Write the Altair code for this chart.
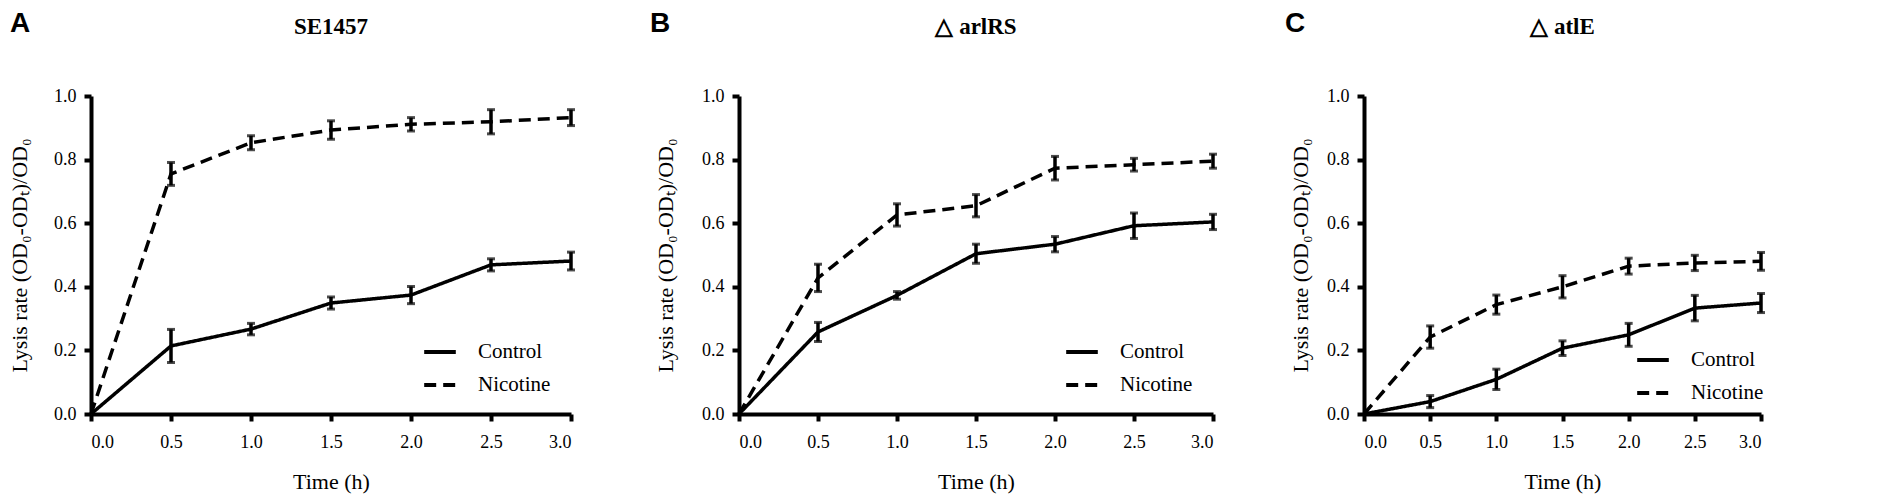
import altair as alt
import pandas as pd

times = [0.0, 0.5, 1.0, 1.5, 2.0, 2.5, 3.0]
groups = ["Control", "Nicotine"]
y_ticks = [0.0, 0.2, 0.4, 0.6, 0.8, 1.0]

a_control = [0.0, 0.214, 0.267, 0.349, 0.374, 0.469, 0.481]
a_control_err = [0.0, 0.052, 0.018, 0.019, 0.027, 0.019, 0.028]
a_nicotine = [0.0, 0.755, 0.853, 0.893, 0.911, 0.919, 0.932]
a_nicotine_err = [0.0, 0.036, 0.022, 0.029, 0.021, 0.038, 0.025]

b_control = [0.0, 0.258, 0.373, 0.504, 0.534, 0.592, 0.604]
b_control_err = [0.0, 0.03, 0.012, 0.03, 0.024, 0.04, 0.024]
b_nicotine = [0.0, 0.428, 0.626, 0.655, 0.773, 0.784, 0.795]
b_nicotine_err = [0.0, 0.043, 0.035, 0.035, 0.037, 0.02, 0.022]

c_control = [0.0, 0.039, 0.109, 0.207, 0.249, 0.333, 0.349]
c_control_err = [0.0, 0.019, 0.032, 0.023, 0.036, 0.04, 0.03]
c_nicotine = [0.0, 0.242, 0.344, 0.40, 0.465, 0.475, 0.48]
c_nicotine_err = [0.0, 0.035, 0.03, 0.035, 0.025, 0.024, 0.028]

Y_TITLE = "Lysis rate (OD\u2080-OD\u209c)/OD\u2080"


def panel(letter, title, ctrl, ctrl_err, nic, nic_err, width, lx, ly, ytpad, letter_x):
    df = pd.DataFrame({
        "time": times * 2,
        "value": ctrl + nic,
        "err": ctrl_err + nic_err,
        "group": ["Control"] * len(times) + ["Nicotine"] * len(times),
    })
    df["lo"] = df["value"] - df["err"]
    df["hi"] = df["value"] + df["err"]
    xs = alt.Scale(domain=[0, 3], nice=False)
    ys = alt.Scale(domain=[0, 1], nice=False)
    xax = alt.Axis(values=times, format=".1f", title="Time (h)", titlePadding=20, labelPadding=12)
    yax = alt.Axis(values=y_ticks, format=".1f", title=Y_TITLE, titlePadding=ytpad, labelPadding=8)

    def X():
        return alt.X("time:Q", scale=xs, axis=xax)

    def Y(f):
        return alt.Y(f"{f}:Q", scale=ys, axis=yax)

    base = alt.Chart(df)
    line = base.mark_line(strokeWidth=3.5, color="black").encode(
        x=X(), y=Y("value"),
        strokeDash=alt.StrokeDash(
            "group:N",
            scale=alt.Scale(domain=groups, range=[[1, 0], [12, 7]]),
            legend=alt.Legend(
                title=None, orient="none", legendX=lx, legendY=ly,
                symbolType="stroke", symbolSize=1000, symbolStrokeWidth=4,
                symbolStrokeColor="black", labelFont="Liberation Serif",
                labelFontSize=21, labelColor="black", labelOffset=20, rowPadding=5,
            ),
        ),
    )
    eb = base.transform_filter("datum.err > 0")
    rules = eb.mark_rule(strokeWidth=3.5, color="black").encode(
        x=X(), y=Y("lo"), y2="hi:Q")
    cap_lo = eb.mark_tick(orient="horizontal", size=8, thickness=3, color="black").encode(
        x=X(), y=Y("lo"))
    cap_hi = eb.mark_tick(orient="horizontal", size=8, thickness=3, color="black").encode(
        x=X(), y=Y("hi"))
    ann = alt.Chart(pd.DataFrame({"letter": [letter], "title": [title]}))
    lab = ann.mark_text(
        align="left", baseline="top", font="Liberation Sans", fontWeight="bold",
        fontSize=28, color="black").encode(
        text="letter:N", x=alt.value(letter_x), y=alt.value(-86))
    ttl = ann.mark_text(
        align="center", baseline="bottom", font="Liberation Serif", fontWeight="bold",
        fontSize=23, color="black").encode(
        text="title:N", x=alt.value(width / 2), y=alt.value(-57))
    return alt.layer(line, rules, cap_lo, cap_hi, lab, ttl).properties(
        width=width, height=318)


pA = panel("A", "SE1457", a_control, a_control_err, a_nicotine, a_nicotine_err,
           480, 331, 238, 22, -81)
pB = panel("B", "\u25b3 arlRS", b_control, b_control_err, b_nicotine, b_nicotine_err,
           474, 325, 238, 24, -89)
pC = panel("C", "\u25b3 atlE", c_control, c_control_err, c_nicotine, c_nicotine_err,
           397, 271, 246, 14, -79)

inner = alt.hconcat(pA, pB, spacing=72).resolve_scale(strokeDash="independent").resolve_legend(strokeDash="independent")
chart = alt.hconcat(inner, pC, spacing=65).resolve_scale(strokeDash="independent").resolve_legend(strokeDash="independent")

chart = chart.properties(
    padding={"left": 0, "top": 2, "right": 5, "bottom": 5}
).configure_view(strokeWidth=0).configure_axis(
    domainColor="black", domainWidth=4, tickColor="black", tickWidth=4, tickSize=7,
    labelFont="Liberation Serif", labelFontSize=18, labelColor="black",
    titleFont="Liberation Serif", titleFontSize=22, titleFontWeight="normal",
    titleColor="black", grid=False,
)

chart.save("out.html", embed_options={"renderer": "svg", "actions": False})
